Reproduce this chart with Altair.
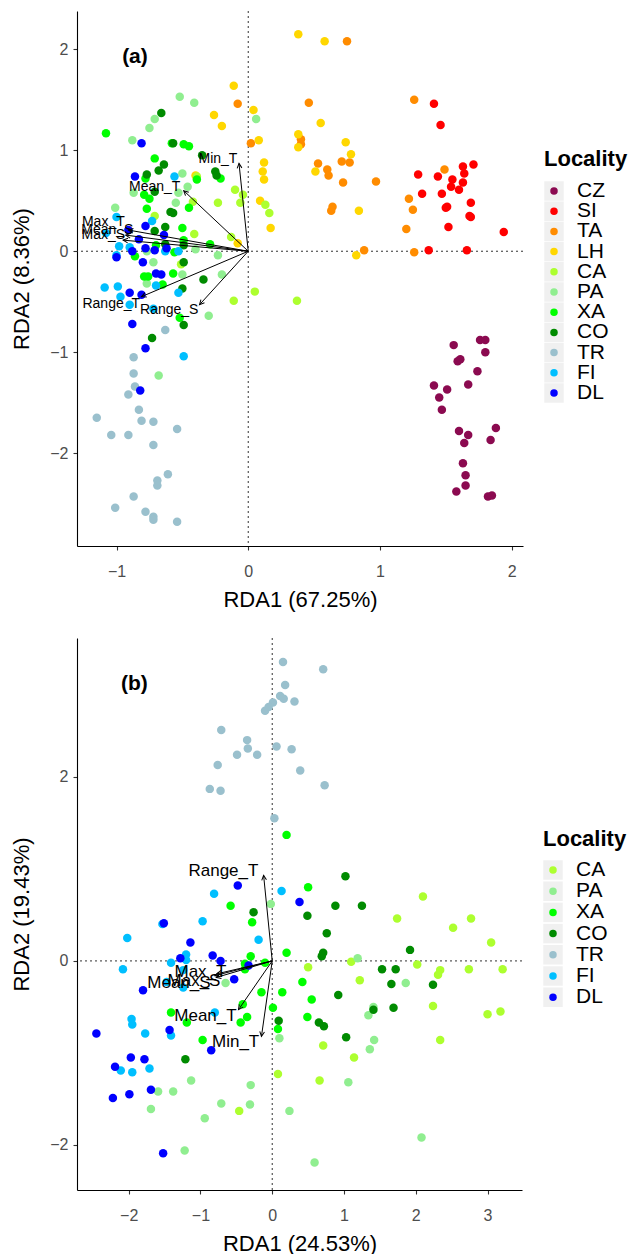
import math
import altair as alt
import pandas as pd

FONT = "Liberation Sans"

# ---------------- categories / colours ----------------
A_LOCS = ["CZ", "SI", "TA", "LH", "CA", "PA", "XA", "CO", "TR", "FI", "DL"]
A_COLORS = ["#8B0A50", "#FF0000", "#FF8C00", "#FFD700", "#ADFF2F", "#90EE90",
            "#00FF00", "#008B00", "#9AC0CD", "#00BFFF", "#0000FF"]
B_LOCS = ["CA", "PA", "XA", "CO", "TR", "FI", "DL"]
B_COLORS = ["#ADFF2F", "#90EE90", "#00FF00", "#008B00", "#9AC0CD", "#00BFFF", "#0000FF"]

# ---------------- panel (a) site scores ----------------
A_CZ_X = [1.56, 1.76, 1.80, 1.80, 1.59, 1.61, 1.74, 1.41, 1.67, 1.51, 1.45, 1.47, 1.60, 1.67, 1.64, 1.88, 1.84, 1.63, 1.65, 1.65, 1.58, 1.82, 1.85]
A_CZ_Y = [-0.93, -0.88, -0.88, -1.00, -1.09, -1.07, -1.19, -1.33, -1.32, -1.37, -1.45, -1.57, -1.78, -1.82, -1.90, -1.75, -1.87, -2.10, -2.22, -2.32, -2.38, -2.43, -2.42]
A_SI_X = [1.41, 1.46, 1.63, 1.71, 1.29, 1.44, 1.55, 1.64, 1.63, 1.32, 1.47, 1.60, 1.54, 1.50, 1.51, 1.69, 1.68, 1.69, 1.52, 1.94, 1.37, 1.66]
A_SI_Y = [1.46, 1.25, 0.84, 0.86, 0.76, 0.74, 0.71, 0.77, 0.68, 0.57, 0.57, 0.61, 0.64, 0.43, 0.44, 0.48, 0.35, 0.34, 0.24, 0.19, 0.01, 0.01]
A_TA_X = [0.75, 1.26, 0.46, -0.08, 0.02, 0.40, 0.40, 0.53, 0.60, 0.61, 0.71, 0.77, 0.72, 0.97, 1.49, 0.64, 0.63, 1.22, 1.25, 1.20, 0.88, 1.26]
A_TA_Y = [2.08, 1.50, 1.47, 1.46, 1.07, 1.11, 1.06, 0.87, 0.81, 0.75, 0.89, 0.88, 0.68, 0.69, 0.81, 0.44, 0.40, 0.52, 0.41, 0.22, 0.01, -0.01]
A_LH_X = [0.38, 0.58, -0.11, 0.04, -0.26, -0.20, 0.08, 0.38, 0.38, 0.55, 0.74, 0.78, 0.12, 0.11, 0.12, 0.09, 0.17, 0.84, 0.51, 0.82, -0.08, -0.40]
A_LH_Y = [2.15, 2.08, 1.64, 1.40, 1.35, 1.24, 1.10, 1.16, 1.03, 1.27, 1.08, 0.96, 0.88, 0.79, 0.71, 0.50, 0.23, 0.40, 0.79, -0.04, 0.08, 0.75]
A_CA_X = [-0.71, -0.42, -0.41, -0.23, -0.10, -0.04, -0.06, -0.13, 0.13, 0.16, -0.11, 0.05, 0.37, -0.51, -0.39]
A_CA_Y = [0.35, 0.49, 0.17, 0.48, 0.61, 0.56, 0.48, 0.14, 0.46, 0.38, -0.49, -0.40, -0.49, -0.13, 0.74]
A_PA_X = [-0.52, -0.41, -0.71, -0.75, -0.88, 0.06, -0.50, -0.46, -0.53, -0.87, -1.01, -0.55, -0.40, -0.23, -0.72, -0.50, -0.20, -0.77, -0.30, -0.68, -0.77]
A_PA_Y = [1.53, 1.47, 1.31, 1.22, 1.10, 1.31, 0.77, 0.64, 0.58, 0.58, 0.43, 0.48, 0.02, -0.04, -0.11, -0.23, -0.23, -0.32, -0.64, -1.23, 0.00]
A_XA_X = [-1.08, -0.58, -0.49, -0.45, -0.71, -0.78, -0.39, -0.21, -0.79, -0.75, -0.77, -0.45, -0.50, -0.29, -0.70, -0.56, -0.86, -0.79, -0.76, -0.57, -0.65, -0.52, -0.49]
A_XA_Y = [1.17, 1.07, 1.06, 1.04, 0.92, 0.72, 0.71, 0.72, 0.56, 0.52, 0.42, 0.43, 0.23, 0.07, 0.06, -0.01, -0.05, -0.25, -0.25, -0.22, -0.33, -0.66, 0.11]
A_CO_X = [-0.66, -0.57, -0.35, -0.64, -0.68, -0.77, -0.25, -0.24, -0.59, -0.57, -0.63, -0.71, -0.49, -0.49, -0.34, -0.50, -0.49, -0.73, -0.71, -0.63]
A_CO_Y = [1.37, 1.07, 0.95, 0.86, 0.80, 0.76, 0.79, 0.75, 0.39, 0.38, 0.24, 0.20, 0.06, -0.11, -0.28, -0.37, -0.73, -0.86, 0.59, 0.07]
A_TR_X = [-0.63, -0.87, -0.87, -0.86, -0.91, -0.83, -1.15, -0.81, -0.72, -1.04, -0.91, -0.54, -0.72, -0.61, -0.69, -0.69, -0.87, -1.01, -0.78, -0.72, -0.72, -0.54]
A_TR_Y = [-0.78, -1.05, -1.21, -1.34, -1.42, -1.57, -1.65, -1.68, -1.69, -1.82, -1.82, -1.76, -1.92, -2.21, -2.27, -2.32, -2.43, -2.54, -2.58, -2.63, -2.66, -2.68]
A_FI_X = [-1.00, -1.08, -0.98, -0.90, -1.00, -1.09, -0.99, -0.97, -0.90, -0.72, -0.56, -0.73, -0.49, -0.53, -0.70, -0.53, -0.63]
A_FI_Y = [0.34, 0.18, 0.05, 0.04, -0.04, -0.36, -0.35, -0.45, -0.53, -0.57, 0.74, 0.30, -1.04, -0.41, -0.34, 0.00, 0.00]
A_DL_X = [-0.81, -0.86, -0.78, -0.91, -0.83, -0.64, -1.00, -0.88, -0.80, -0.78, -0.71, -0.70, -0.66, -0.90, -0.81, -0.88, -0.78, -0.82, -0.62]
A_DL_Y = [1.07, 0.74, 0.25, 0.21, 0.12, 0.16, -0.06, 0.00, -0.11, 0.03, 0.01, -0.22, -0.23, -0.41, -0.43, -0.72, -0.96, -1.38, 0.03]

# ---------------- panel (a) environmental vectors ----------------
A_VARS = ["Min_T", "Mean_T", "Max_T", "Mean_S", "Max_S", "Range_T", "Range_S"]
A_VEC_X = [-0.07, -0.49, -0.91, -0.93, -0.95, -0.81, -0.37]
A_VEC_Y = [0.87, 0.60, 0.21, 0.16, 0.11, -0.45, -0.53]
A_LAB_X = [-0.23, -0.71, -1.10, -1.07, -1.10, -1.04, -0.60]
A_LAB_Y = [0.91, 0.64, 0.29, 0.21, 0.16, -0.52, -0.58]

# ---------------- panel (b) site scores ----------------
B_CA_X = [2.10, 1.74, 2.52, 2.77, 3.05, 1.10, 2.02, 0.50, 2.34, 2.31, 2.74, 3.21, 1.22, 2.24, 3.00, 3.18, 2.34, 0.71, 1.14, 0.08, 0.66, -0.46]
B_CA_Y = [0.70, 0.46, 0.36, 0.46, 0.20, -0.01, -0.04, -0.07, -0.10, -0.15, -0.09, -0.09, -0.21, -0.49, -0.58, -0.55, -0.86, -0.92, -1.05, -1.23, -1.30, -1.63]
B_PA_X = [-0.02, 1.19, 1.86, -0.65, 1.41, 1.34, 1.42, 1.36, 0.10, 1.06, -1.13, -0.30, -1.59, -1.38, -0.71, -0.31, 0.24, -1.69, -0.94, 2.08, -1.22, 0.59]
B_PA_Y = [0.62, 0.03, -0.24, -0.24, -0.50, -0.59, -0.86, -0.96, -0.84, -1.32, -1.30, -1.35, -1.42, -1.42, -1.55, -1.56, -1.63, -1.61, -1.71, -1.92, -2.06, -2.19]
B_XA_X = [0.20, 0.50, -0.58, -0.28, 0.20, -0.30, -0.38, -0.38, -0.10, 0.42, -0.15, 0.14, 0.55, -0.41, 0.01, -1.41, -0.35, -0.44, 0.49, -1.19, 0.08, -0.97]
B_XA_Y = [1.37, 0.80, 0.60, 0.42, 0.09, 0.05, -0.03, -0.09, -0.02, -0.23, -0.34, -0.34, -0.42, -0.47, -0.51, -0.56, -0.61, -0.67, -0.61, -0.67, -0.74, -0.86]
B_CO_X = [1.02, -0.26, 0.49, 0.88, 1.25, 0.76, 0.71, 0.69, 1.92, 1.53, 1.72, 1.66, 2.24, 0.92, 1.41, 1.69, 0.09, 0.65, 0.72, 1.03, -1.21]
B_CO_Y = [0.92, 0.53, 0.49, 0.60, 0.60, 0.30, 0.09, 0.05, 0.12, -0.09, -0.09, -0.25, -0.26, -0.37, -0.53, -0.51, -0.65, -0.67, -0.71, -0.83, -1.07]
B_TR_X = [0.15, 0.71, 0.18, 0.11, 0.16, 0.31, 0.01, -0.05, -0.10, -0.71, -0.35, -0.34, -0.49, -0.21, 0.06, 0.27, -0.76, 0.39, -0.87, -0.72, 0.73, 0.03]
B_TR_Y = [3.25, 3.17, 3.00, 2.88, 2.85, 2.82, 2.81, 2.76, 2.72, 2.51, 2.40, 2.31, 2.24, 2.24, 2.33, 2.30, 2.13, 2.07, 1.87, 1.85, 1.91, 1.55]
B_FI_X = [-0.81, 0.13, -0.97, -1.53, -2.02, -0.19, -1.20, -1.20, -1.41, -1.24, -2.08, -1.47, -1.24, -0.80, -1.96, -1.95, -1.77, -1.41, -1.71, -1.95, -2.11]
B_FI_Y = [0.73, 0.76, 0.43, 0.40, 0.25, 0.23, 0.07, 0.01, -0.02, -0.10, -0.09, -0.23, -0.29, -0.56, -0.63, -0.69, -0.79, -0.81, -1.17, -1.21, -1.19]
B_DL_X = [-0.48, 0.38, -1.51, -1.14, -0.83, -0.72, -1.28, -0.33, -0.53, -1.80, -1.43, -2.45, -1.97, -1.78, -2.19, -1.69, -2.22, -1.99, -1.52, -0.85]
B_DL_Y = [0.82, 0.64, 0.41, 0.20, 0.06, 0.00, 0.03, -0.05, -0.20, -0.32, -0.75, -0.79, -1.05, -1.07, -1.15, -1.40, -1.49, -1.45, -2.09, -0.97]

# ---------------- panel (b) environmental vectors ----------------
B_VARS = ["Range_T", "Max_T", "Mean_S", "Max_S", "Mean_T", "Min_T"]
B_VEC_X = [-0.12, -0.77, -0.80, -0.78, -0.47, -0.15]
B_VEC_Y = [0.93, -0.14, -0.16, -0.18, -0.53, -0.82]
B_LAB_X = [-0.68, -1.00, -1.30, -1.09, -0.93, -0.51]
B_LAB_Y = [0.98, -0.12, -0.24, -0.22, -0.60, -0.88]

# ---------------- axes ----------------
A_XDOM = [-1.30, 2.086]
A_YDOM = [-2.92, 2.38]
A_XTICKS = [-1, 0, 1, 2]
A_YTICKS = [-2, -1, 0, 1, 2]
B_XDOM = [-2.72, 3.48]
B_YDOM = [-2.49, 3.51]
B_XTICKS = [-2, -1, 0, 1, 2, 3]
B_YTICKS = [-2, 0, 2]

A_SCORES = {
    "CZ": (A_CZ_X, A_CZ_Y), "SI": (A_SI_X, A_SI_Y), "TA": (A_TA_X, A_TA_Y),
    "LH": (A_LH_X, A_LH_Y), "CA": (A_CA_X, A_CA_Y), "PA": (A_PA_X, A_PA_Y),
    "XA": (A_XA_X, A_XA_Y), "CO": (A_CO_X, A_CO_Y), "TR": (A_TR_X, A_TR_Y),
    "FI": (A_FI_X, A_FI_Y), "DL": (A_DL_X, A_DL_Y),
}
B_SCORES = {
    "CA": (B_CA_X, B_CA_Y), "PA": (B_PA_X, B_PA_Y), "XA": (B_XA_X, B_XA_Y),
    "CO": (B_CO_X, B_CO_Y), "TR": (B_TR_X, B_TR_Y), "FI": (B_FI_X, B_FI_Y),
    "DL": (B_DL_X, B_DL_Y),
}

A_W, A_H = 446, 535
B_W, B_H = 445, 552
CHEVRON = "M-0.5,1L0,0L0.5,1"


def scores_df(scores, locs):
    rows = []
    for loc in locs:
        xs, ys = scores[loc]
        for x, y in zip(xs, ys):
            rows.append({"loc": loc, "x": x, "y": y})
    return pd.DataFrame(rows)


def vectors_df(names, vx, vy, lx, ly, xdom, ydom, w, h):
    kx = w / (xdom[1] - xdom[0])
    ky = h / (ydom[1] - ydom[0])
    ang = [(math.degrees(math.atan2(x * kx, y * ky)) + 360.0) % 360.0 for x, y in zip(vx, vy)]
    return pd.DataFrame({"name": names, "x": vx, "y": vy, "x0": [0.0] * len(names),
                         "y0": [0.0] * len(names), "lx": lx, "ly": ly, "ang": ang})


def panel(scores, locs, colors, vec, tag, tag_xy, xdom, ydom, xticks, yticks,
          xtitle, ytitle, w, h, lab_size):
    xs = alt.Scale(domain=xdom, nice=False, zero=False)
    ys = alt.Scale(domain=ydom, nice=False, zero=False)
    common = dict(grid=False, domainColor="black", domainWidth=1.1, tickColor="#333333",
                  tickSize=4, tickWidth=1.1, labelFontSize=16, labelColor="#4D4D4D",
                  titleFontSize=22, titleFontWeight="normal", titleColor="black",
                  labelFont=FONT, titleFont=FONT)
    xax = alt.Axis(values=xticks, title=xtitle, labelPadding=13, titlePadding=10, **common)
    yax = alt.Axis(values=yticks, title=ytitle, labelPadding=5, titlePadding=16, **common)

    pts = scores_df(scores, locs)
    zero = pd.DataFrame({"v": [0.0]})
    hline = alt.Chart(zero).mark_rule(color="#333333", strokeDash=[2, 3], strokeWidth=1).encode(
        y=alt.Y("v:Q", scale=ys, axis=yax))
    vline = alt.Chart(zero).mark_rule(color="#333333", strokeDash=[2, 3], strokeWidth=1).encode(
        x=alt.X("v:Q", scale=xs, axis=xax))
    dots = alt.Chart(pts).mark_circle(size=72, opacity=1).encode(
        x=alt.X("x:Q", scale=xs, axis=xax),
        y=alt.Y("y:Q", scale=ys, axis=yax),
        color=alt.Color("loc:N", scale=alt.Scale(domain=locs, range=colors), legend=None))
    shafts = alt.Chart(vec).mark_rule(color="black", strokeWidth=1).encode(
        x=alt.X("x0:Q", scale=xs, axis=xax), y=alt.Y("y0:Q", scale=ys, axis=yax),
        x2="x:Q", y2="y:Q")
    heads = alt.Chart(vec).mark_point(shape=CHEVRON, filled=False, color="black",
                                      strokeWidth=1, size=90, opacity=1).encode(
        x=alt.X("x:Q", scale=xs, axis=xax), y=alt.Y("y:Q", scale=ys, axis=yax),
        angle=alt.Angle("ang:Q", scale=None))
    labels = alt.Chart(vec).mark_text(fontSize=lab_size, font=FONT, color="black",
                                      align="center", baseline="middle").encode(
        x=alt.X("lx:Q", scale=xs, axis=xax), y=alt.Y("ly:Q", scale=ys, axis=yax), text="name:N")
    tagdf = pd.DataFrame({"t": [tag], "x": [tag_xy[0]], "y": [tag_xy[1]]})
    tagm = alt.Chart(tagdf).mark_text(fontSize=21, fontWeight="bold", font=FONT, color="black",
                                      align="center", baseline="middle").encode(
        x=alt.X("x:Q", scale=xs, axis=xax), y=alt.Y("y:Q", scale=ys, axis=yax), text="t:N")
    return alt.layer(hline, vline, dots, shafts, heads, labels, tagm).properties(width=w, height=h)


def legend(locs, colors, h, step, first, title_rel):
    ys = alt.Scale(domain=[-first / step, (h - first) / step], reverse=True, nice=False, zero=False)
    df = pd.DataFrame({"loc": locs, "i": list(range(len(locs)))})
    y = alt.Y("i:Q", scale=ys, axis=None)
    keys = alt.Chart(df).mark_square(size=380, color="#F0F0F0", opacity=1).encode(x=alt.value(10), y=y)
    dots = alt.Chart(df).mark_circle(size=56, opacity=1).encode(
        x=alt.value(10), y=y,
        color=alt.Color("loc:N", scale=alt.Scale(domain=locs, range=colors), legend=None))
    labels = alt.Chart(df).mark_text(align="left", baseline="middle", fontSize=21, font=FONT,
                                     color="black").encode(x=alt.value(33), y=y, text="loc:N")
    tdf = pd.DataFrame({"t": ["Locality"], "i": [(title_rel - first) / step]})
    title = alt.Chart(tdf).mark_text(align="left", baseline="middle", fontSize=22, fontWeight="bold",
                                     font=FONT, color="black").encode(
        x=alt.value(0), y=alt.Y("i:Q", scale=ys, axis=None), text="t:N")
    return alt.layer(keys, dots, labels, title).properties(width=84, height=h)


vec_a = vectors_df(A_VARS, A_VEC_X, A_VEC_Y, A_LAB_X, A_LAB_Y, A_XDOM, A_YDOM, A_W, A_H)
vec_b = vectors_df(B_VARS, B_VEC_X, B_VEC_Y, B_LAB_X, B_LAB_Y, B_XDOM, B_YDOM, B_W, B_H)

pa = panel(A_SCORES, A_LOCS, A_COLORS, vec_a, "(a)", (-0.86, 1.92), A_XDOM, A_YDOM,
           A_XTICKS, A_YTICKS, "RDA1 (67.25%)", "RDA2 (8.36%)", A_W, A_H, 14)
pb = panel(B_SCORES, B_LOCS, B_COLORS, vec_b, "(b)", (-1.92, 3.01), B_XDOM, B_YDOM,
           B_XTICKS, B_YTICKS, "RDA1 (24.53%)", "RDA2 (19.43%)", B_W, B_H, 17)

la = legend(A_LOCS, A_COLORS, A_H, 20.2, 180, 148)
lb = legend(B_LOCS, B_COLORS, B_H, 21.2, 232, 201)

row_a = alt.hconcat(pa, la, spacing=20).resolve_scale(x="independent", y="independent", color="independent")
row_b = alt.hconcat(pb, lb, spacing=20).resolve_scale(x="independent", y="independent", color="independent")

chart = alt.vconcat(row_a, row_b, spacing=27).resolve_scale(
    x="independent", y="independent", color="independent"
).properties(
    padding={"left": 2, "top": 2, "right": 0, "bottom": 0}
).configure_view(stroke=None).configure_text(font=FONT)

chart.save("out.html", embed_options={"renderer": "svg", "actions": False})
